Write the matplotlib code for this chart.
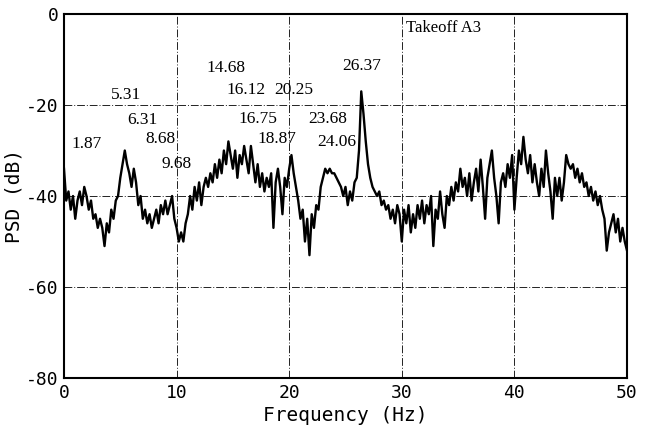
import numpy as np
import matplotlib
matplotlib.use("Agg")
import matplotlib.pyplot as plt

plt.rcParams['axes.unicode_minus'] = False

# PSD trace, 0.2 Hz steps from 0 to 50 Hz
psd = [
    -34, -41, -39, -43, -40, -45, -41, -39, -42, -38,   # 0-2
    -40, -43, -41, -45, -44, -47, -45, -47, -51, -46,   # 2-4
    -48, -43, -45, -41, -40, -36, -33, -30, -33, -35,   # 4-6
    -38, -34, -37, -42, -40, -45, -43, -46, -44, -47,   # 6-8
    -45, -43, -46, -42, -44, -41, -44, -42, -40, -45,   # 8-10
    -47, -50, -48, -50, -46, -44, -40, -43, -38, -41,   # 10-12
    -37, -42, -38, -36, -38, -35, -37, -33, -36, -32,   # 12-14
    -35, -30, -33, -28, -31, -34, -30, -36, -31, -33,   # 14-16
    -29, -32, -35, -29, -33, -37, -33, -38, -35, -39,   # 16-18
    -36, -38, -35, -47, -37, -34, -38, -44, -36, -38,   # 18-20
    -34, -31, -35, -38, -41, -45, -43, -50, -45, -53,   # 20-22
    -44, -47, -42, -43, -38, -36, -34, -35, -34, -35,   # 22-24
    -35, -36, -37, -38, -40, -38, -42, -39, -41, -37,   # 24-26
    -36, -30, -17, -22, -28, -33, -36, -38, -39, -40,   # 26-28
    -39, -42, -41, -43, -42, -45, -43, -46, -42, -44,   # 28-30
    -50, -43, -46, -42, -48, -44, -47, -42, -45, -41,   # 30-32
    -46, -42, -44, -40, -51, -43, -45, -39, -44, -47,   # 32-34
    -40, -42, -38, -41, -37, -39, -34, -38, -36, -40,   # 34-36
    -35, -41, -37, -34, -39, -32, -38, -45, -36, -33,   # 36-38
    -30, -36, -40, -46, -37, -35, -38, -33, -36, -31,   # 38-40
    -43, -36, -30, -33, -27, -32, -35, -31, -37, -33,   # 40-42
    -37, -40, -34, -38, -30, -35, -39, -45, -36, -40,   # 42-44
    -36, -41, -37, -31, -33, -34, -33, -36, -34, -37,   # 44-46
    -35, -38, -37, -40, -38, -41, -39, -42, -40, -43,   # 46-48
    -45, -52, -48, -46, -44, -48, -45, -50, -47, -50,   # 48-50
    -52,
]
freq = np.linspace(0, 50, len(psd))

# peak labels: text, x (Hz), y (dB)
peak_labels = ['1.87', '5.31', '6.31', '8.68', '9.68', '14.68', '16.12', '20.25',
               '16.75', '18.87', '23.68', '24.06', '26.37']
label_x = [2.0, 5.5, 7.0, 8.6, 10.0, 14.4, 16.2, 20.4, 17.2, 18.9, 23.4, 24.2, 26.4]
label_y = [-28.6, -17.9, -23.4, -27.5, -33.0, -11.9, -16.8, -16.6, -23.0, -27.5, -23.0, -28.2, -11.4]

mono = 'DejaVu Sans Mono'

fig = plt.figure(figsize=(6.45, 4.34), dpi=100)
ax = fig.add_axes([0.0992, 0.129, 0.8729, 0.8387])

ax.plot(freq, psd, color='black', lw=1.7)

ax.set_xlim(0, 50)
ax.set_ylim(-80, 0)
ax.set_xticks(np.arange(0, 51, 10))
ax.set_yticks(np.arange(-80, 1, 20))
ax.grid(True, color='#222222', lw=0.7, linestyle=(0, (8, 2, 1, 2)))
ax.tick_params(length=0, pad=4, labelsize=13)
for lab in ax.get_xticklabels() + ax.get_yticklabels():
    lab.set_family(mono)
for s in ax.spines.values():
    s.set_linewidth(1.5)

ax.set_xlabel('Frequency (Hz)', family=mono, fontsize=14, labelpad=3)
ax.set_ylabel('PSD (dB)', family=mono, fontsize=14, labelpad=2)

for t, x, y in zip(peak_labels, label_x, label_y):
    ax.text(x, y, t, ha='center', va='center', family='Liberation Serif', fontsize=12.5)

ax.text(30.4, -3.1, 'Takeoff A3', ha='left', va='center', family='Liberation Serif', fontsize=12)

fig.savefig('out.png', dpi=100)
